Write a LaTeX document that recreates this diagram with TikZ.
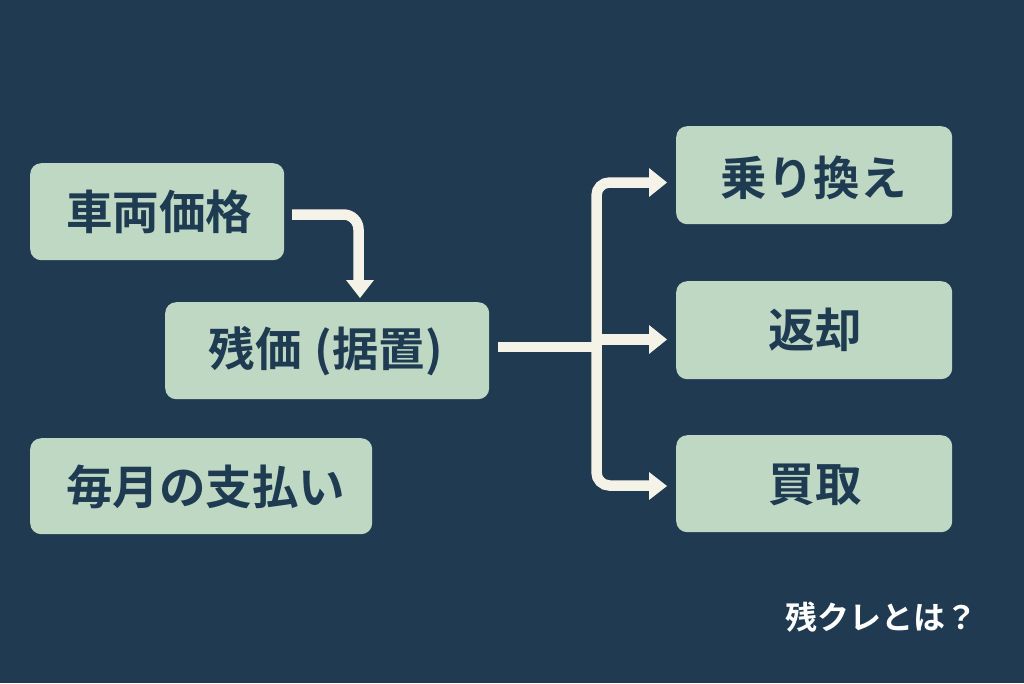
\documentclass[tikz,border=0pt]{standalone}
\usepackage{fontspec}
\newfontfamily\cjk{Noto Sans CJK JP}[BoldFont={Noto Sans CJK JP Bold}]
\definecolor{bg}{HTML}{203A52}
\definecolor{boxc}{HTML}{BFD8C4}
\definecolor{ink}{HTML}{1F3B52}
\definecolor{lin}{HTML}{F5F3E8}
\tikzset{
 pxx/.style={x=1pt,y=-1pt},
 card/.style={fill=boxc,rounded corners=11pt,anchor=north west},
 lbl/.style={font=\cjk\bfseries\fontsize{46.5}{50}\selectfont,text=ink,inner sep=0pt},
 conn/.style={draw=lin,line width=10.5pt},
 tip/.style={fill=lin,draw=none}
}
\begin{document}
\begin{tikzpicture}[pxx]
\useasboundingbox (0,0) rectangle (1024,683);
\fill[bg] (0,0) rectangle (1024,683);
\node[card,minimum width=254pt,minimum height=97pt] (a) at (30,163) {};
\node[card,minimum width=324pt,minimum height=97pt] (b) at (165,302) {};
\node[card,minimum width=342pt,minimum height=96pt] (c) at (30,438) {};
\node[card,minimum width=276pt,minimum height=98pt] (d) at (676,126) {};
\node[card,minimum width=276pt,minimum height=98pt] (e) at (676,281) {};
\node[card,minimum width=276pt,minimum height=97pt] (f) at (676,435) {};
\node[lbl] (la) at (159,212) {車両価格};
\node[lbl] (lb) at (326,351) {残価\hspace{13pt}(据置)};
\node[lbl] (lc) at (205.5,487) {毎月の支払い};
\node[lbl] (ld) at (813.5,178) {乗り換え};
\node[lbl] (le) at (815,330) {返却};
\node[lbl] (lf) at (815,485) {買取};
\node[font=\cjk\bfseries\fontsize{32}{36}\selectfont,text=white] (t) at (881.5,617) {残クレとは？};
\coordinate (a1) at (292,214.5);
\coordinate (a2) at (358.5,283);
\draw[conn,rounded corners=15pt] (a1) -- (358.5,214.5) -- (a2);
\fill[tip] (346,280) -- (374,280) -- (360,298) -- cycle;
\coordinate (s) at (498,347);
\draw[conn] (s) -- (596.5,347);
\draw[conn,rounded corners=13pt] (651,182.5) -- (596.5,182.5) -- (596.5,485.5) -- (651,485.5);
\draw[conn] (596.5,339.5) -- (651,339.5);
\fill[tip] (649,168) -- (667,182.5) -- (649,197) -- cycle;
\fill[tip] (649,325) -- (667,339.5) -- (649,354) -- cycle;
\fill[tip] (649,472) -- (667,486) -- (649,500) -- cycle;
\end{tikzpicture}
\end{document}
